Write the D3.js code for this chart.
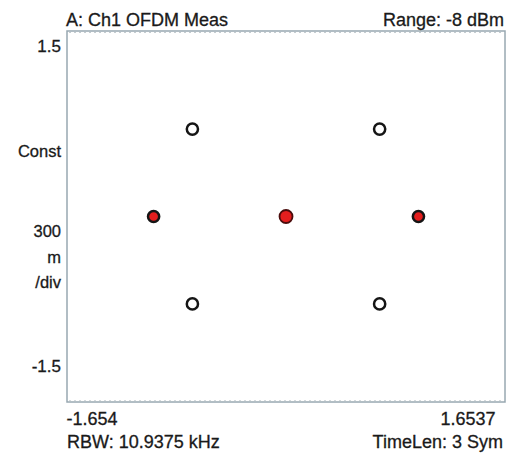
<!DOCTYPE html>
<html><head><meta charset="utf-8">
<script src="https://cdn.jsdelivr.net/npm/d3@7"></script>
<style>
html,body{margin:0;padding:0;background:#fff;}
text{font-family:"Liberation Sans",Arial,sans-serif;fill:#1a1a1a;stroke:#1a1a1a;stroke-width:0.3px;}
</style></head>
<body>
<script>
// Data
const pointI = [-1.0, 0.0, 1.0, -0.707, 0.707, -0.707, 0.707];
const pointQ = [0.0, 0.0, 0.0, 0.707, 0.707, -0.707, -0.707];
const pointKind = ["red", "redBig", "red", "hollow", "hollow", "hollow", "hollow"];
const xDomain = [-1.654, 1.6537];
const yDomain = [-1.5, 1.5];
const xTickLabels = ["-1.654", "1.6537"];
const yTickLabels = ["1.5", "-1.5"];
const yUnitLabels = ["Const", "300", "m", "/div"];
const titleLeft = "A: Ch1 OFDM Meas";
const titleRight = "Range: -8 dBm";
const footLeft = "RBW: 10.9375 kHz";
const footRight = "TimeLen: 3 Sym";

const W = 508, H = 457;
const L = 67, R = 505, T = 31, B = 402;

const svg = d3.select("body").append("svg").attr("width", W).attr("height", H);

const x = d3.scaleLinear().domain(xDomain).range([L, R]);
const y = d3.scaleLinear().domain(yDomain).range([B, T]);

// frame
svg.append("rect").attr("x", L).attr("y", T).attr("width", R - L).attr("height", B - T)
  .attr("fill", "none").attr("stroke", "#98a8b1").attr("stroke-width", 1.5);
svg.append("line").attr("x1", L + 2).attr("x2", R - 2).attr("y1", T + 1.5).attr("y2", T + 1.5)
  .attr("stroke", "#c4ccd0").attr("stroke-width", 1).attr("stroke-dasharray", "2,3");
svg.append("line").attr("x1", L + 2).attr("x2", R - 2).attr("y1", B - 1.5).attr("y2", B - 1.5)
  .attr("stroke", "#d4dadd").attr("stroke-width", 1).attr("stroke-dasharray", "2,3");

// header / footer
svg.append("text").attr("x", 66).attr("y", 26).attr("font-size", 18).text(titleLeft);
svg.append("text").attr("x", 504).attr("y", 26).attr("font-size", 18).attr("text-anchor", "end").text(titleRight);
svg.append("text").attr("x", 67).attr("y", 448).attr("font-size", 18).text(footLeft);
svg.append("text").attr("x", 503).attr("y", 448).attr("font-size", 18).attr("text-anchor", "end").text(footRight);

// x tick labels (ends of the axis)
const xAxis = d3.axisBottom(x).tickValues(xDomain).tickSize(0).tickFormat((d, i) => xTickLabels[i]);
const gx = svg.append("g").attr("transform", `translate(0,${B})`).call(xAxis);
gx.select(".domain").remove();
gx.selectAll("text").attr("font-size", 18).attr("font-family", "Liberation Sans, Arial, sans-serif")
  .attr("fill", "#1a1a1a").attr("y", 23).attr("dy", 0)
  .attr("text-anchor", (d, i) => i === 0 ? "start" : "end")
  .attr("dx", (d, i) => i === 0 ? -1 : -10);

// y labels
const yLabelY = [52, 372];
svg.selectAll("text.ytick").data(yTickLabels).enter().append("text")
  .attr("class", "ytick").attr("x", 61).attr("y", (d, i) => yLabelY[i])
  .attr("font-size", 17).attr("text-anchor", "end").text(d => d);
const unitY = [157, 237, 263, 288];
svg.selectAll("text.yunit").data(yUnitLabels).enter().append("text")
  .attr("class", "yunit").attr("x", 61).attr("y", (d, i) => unitY[i])
  .attr("font-size", 16.5).attr("text-anchor", "end").text(d => d);

// points
const pts = pointI.map((v, i) => ({ i: v, q: pointQ[i], k: pointKind[i] }));
const g = svg.append("g");
g.selectAll("circle").data(pts).enter().append("circle")
  .attr("cx", d => x(d.i)).attr("cy", d => y(d.q))
  .attr("r", d => d.k === "redBig" ? 6.5 : 5.6)
  .attr("fill", d => d.k === "hollow" ? "#fff" : "#e41e1e")
  .attr("stroke", d => d.k === "redBig" ? "#4a0c0c" : "#151515")
  .attr("stroke-width", d => d.k === "redBig" ? 1.8 : 2.5);
</script>
</body></html>
